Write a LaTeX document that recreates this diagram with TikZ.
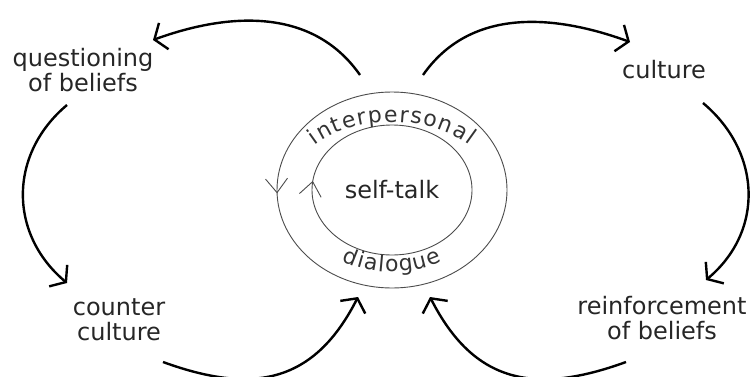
\documentclass[tikz,border=0pt]{standalone}
\usepackage{fontspec}
\setmainfont{DejaVu Sans}
\usetikzlibrary{arrows.meta,decorations.markings,decorations.text}
\newcommand{\ringfont}{\fontsize{11}{13}\selectfont\color{black!80}}

\begin{document}
\begin{tikzpicture}[x=0.5pt,y=0.5pt,
  label/.style={align=center,inner sep=0pt,text=black!85,font=\fontsize{12}{12.5}\selectfont},
  bigarrow/.style={line width=1.2pt,-{Straight Barb[length=5pt,width=14pt]}},
  ring/.style={line width=0.45pt,black!70},
  ringtip/.style={decoration={markings,mark=at position #1 with {\arrow{Straight Barb[length=7pt,width=11pt]}}},postaction={decorate}},
  ringtipback/.style={decoration={markings,mark=at position #1 with {\arrowreversed{Straight Barb[length=7pt,width=11pt]}}},postaction={decorate}}]

\useasboundingbox (0,0) rectangle (753,376);

\node[label] (self)    at (392,186) {self-talk};
\node[label] (quest)   at (83,306)  {questioning\\of beliefs};
\node[label] (cult)    at (664,306) {culture};
\node[label] (counter) at (119,56)  {counter\\culture};
\node[label] (reinf)   at (662,58)  {reinforcement\\of beliefs};

% rings round self-talk
\draw[ring,ringtip=0.505] (self.center) ellipse[x radius=115,y radius=98];
\draw[ring,ringtipback=0.48] (self.center) ellipse[x radius=80,y radius=65];

\path[decorate,decoration={text along path,text align={fit to path},text={|\ringfont|interpersonal}}]
  ([shift={(139:102 and 68)}]self.center) arc[start angle=139,end angle=41,x radius=102,y radius=68];
\path[decorate,decoration={text along path,text align={fit to path},text={|\ringfont|dialogue}}]
  ([shift={(240:100 and 82)}]self.center) arc[start angle=240,end angle=300,x radius=100,y radius=82];

% the outer loops
\path[bigarrow]
  ([shift={(-32,115)}]self.center)   edge[out=125,in=20]                 ([shift={(70,30)}]quest.center)
  ([shift={(31,115)}]self.center)    edge[out=55,in=160]                 ([shift={(-34,28)}]cult.center)
  ([shift={(-16,-35)}]quest.center)  edge[out=220,in=140,looseness=1.1]  ([shift={(-52,37)}]counter.center)
  ([shift={(39,-33)}]cult.center)    edge[out=-40,in=40,looseness=1.1]   ([shift={(44,38)}]reinf.center)
  ([shift={(44,-42)}]counter.center) edge[out=-20,in=243,looseness=1.2]  ([shift={(-34,-107)}]self.center)
  ([shift={(-36,-44)}]reinf.center)  edge[out=200,in=-63,looseness=1.2]  ([shift={(38,-107)}]self.center);

\end{tikzpicture}
\end{document}
